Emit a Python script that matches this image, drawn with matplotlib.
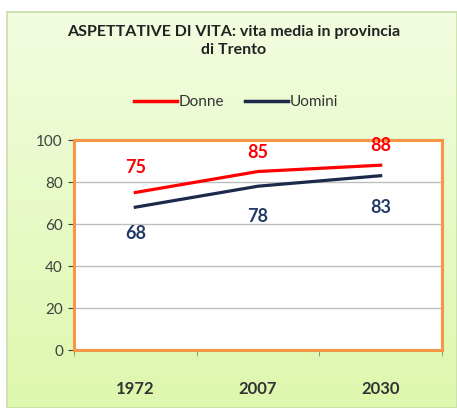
import numpy as np
import matplotlib.pyplot as plt
from matplotlib.lines import Line2D

anni = ['1972', '2007', '2030']
donne = [75, 85, 88]
uomini = [68, 78, 83]

plt.rcParams['font.family'] = ['Lato', 'DejaVu Sans']

W, H = 457, 408
fig = plt.figure(figsize=(W / 100, H / 100), dpi=100)
fig.patch.set_facecolor('white')

# sfondo verde sfumato
bg = fig.add_axes([7 / W, 0, 1 - 7 / W, (H - 12) / H])
grad = np.linspace(0, 1, 256).reshape(-1, 1)
top = np.array([0.95, 0.99, 0.88])
bot = np.array([0.87, 0.97, 0.68])
img = top + (bot - top) * grad[:, :, None]
bg.imshow(img, aspect='auto', extent=[0, 1, 0, 1])
bg.set_xticks([])
bg.set_yticks([])
for s in bg.spines.values():
    s.set_color('#c9dfa8')
    s.set_linewidth(1.2)

ax = fig.add_axes([74 / W, (H - 350) / H, (442 - 74) / W, (350 - 140) / H])
ax.set_facecolor('white')
x = np.arange(len(anni))
ax.plot(x, donne, color='#ff0000', lw=2.3, zorder=3)
ax.plot(x, uomini, color='#1b2a4a', lw=2.3, zorder=3)

# spostamento delle etichette (punti)
off_d = [18, 14, 14]
off_u = [-19, -22, -23]
for xi, v, o in zip(x, donne, off_d):
    ax.annotate(str(v), (xi, v), xytext=(0, o), textcoords='offset points',
                color='#ff0000', fontsize=13, fontweight='bold', ha='center', va='center')
for xi, v, o in zip(x, uomini, off_u):
    ax.annotate(str(v), (xi, v), xytext=(0, o), textcoords='offset points',
                color='#243a66', fontsize=13, fontweight='bold', ha='center', va='center')

ax.set_xlim(-0.5, 2.5)
ax.set_ylim(0, 100)
ax.set_yticks(range(0, 101, 20))
ax.yaxis.grid(True, color='#bdbdbd', lw=1)
ax.set_axisbelow(True)
ax.set_xticks(x)
ax.set_xticklabels(anni, fontsize=12, fontweight='bold', color='#333333')
ax.tick_params(axis='x', length=0, pad=22)
ax.tick_params(axis='y', labelsize=11, colors='#404040', length=4, pad=4)
ax.set_xticks([-0.5, 0.5, 1.5, 2.5], minor=True)
ax.tick_params(axis='x', which='minor', length=4, color='#888888')
for s in ax.spines.values():
    s.set_color('#f79646')
    s.set_linewidth(2.2)

fig.text(234 / W, 1 - 41 / H, 'ASPETTATIVE DI VITA: vita media in provincia\ndi Trento',
         ha='center', va='center', fontsize=11.5, fontweight='bold', color='#222222',
         linespacing=1.45)

handles = [Line2D([], [], color='#ff0000', lw=2.5),
           Line2D([], [], color='#1b2a4a', lw=2.5)]
fig.legend(handles, ['Donne', 'Uomini'], loc='center', bbox_to_anchor=(236 / W, 1 - 102 / H),
           ncol=2, frameon=False, fontsize=11, handlelength=2.8, handletextpad=0.1,
           columnspacing=1.4, labelcolor='#333333')

fig.savefig('out.png', dpi=100)
